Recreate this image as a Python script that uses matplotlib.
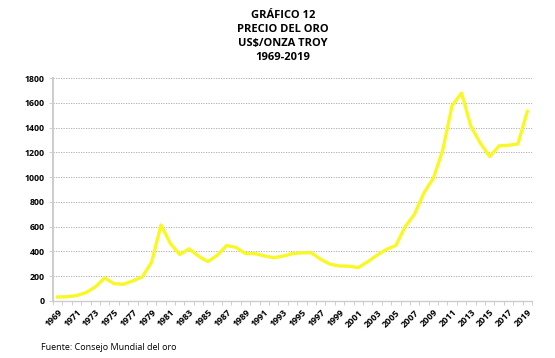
import numpy as np
import matplotlib
matplotlib.use("Agg")
import matplotlib.pyplot as plt

# datos (US$/onza troy)
years = list(range(1969, 2020))
prices = [32, 35, 43, 67, 113, 186, 140, 135, 162, 194,
          313, 613, 464, 375, 421, 362, 318, 370, 448, 432,
          383, 383, 364, 350, 362, 383, 389, 389, 337, 297,
          283, 281, 270, 316, 370, 416, 448, 599, 702, 874,
          990, 1220, 1579, 1678, 1409, 1274, 1166, 1252, 1257, 1268,
          1530]
title_lines = ["GRÁFICO 12", "PRECIO DEL ORO", "US$/ONZA TROY", "1969-2019"]
source = "Fuente: Consejo Mundial del oro"

plt.rcParams['font.family'] = ['Open Sans', 'DejaVu Sans']

W, H = 555, 358
fig = plt.figure(figsize=(W / 100, H / 100), dpi=100)
ax = fig.add_axes([53 / W, 1 - 301 / H, (532 - 53) / W, (301 - 78) / H])

x = np.arange(len(years))
ax.plot(x, prices, color="#F8F826", lw=2.4, solid_joinstyle="round")

ax.set_xlim(-0.5, len(years) - 0.5)
ax.set_ylim(0, 1800)
ax.set_yticks(np.arange(0, 1801, 200))
ax.yaxis.grid(True, color="#a6a6a6", ls=(0, (1.5, 1.5)), lw=0.6)
ax.set_axisbelow(True)

# etiquetas cada dos años, marcas entre categorias
ax.set_xticks(x[::2])
ax.set_xticklabels([str(y) for y in years[::2]], rotation=45, ha="right",
                   rotation_mode="anchor", fontsize=6.5, fontweight="bold")
ax.set_xticks(np.arange(-0.5, len(years)), minor=True)
ax.tick_params(axis="x", which="major", length=0, pad=5)
ax.tick_params(axis="x", which="minor", length=3, color="#c8c8c8", width=0.6)
ax.tick_params(axis="y", length=3, color="#c8c8c8", width=0.6, pad=3,
               labelsize=6.3)
for lab in ax.get_yticklabels():
    lab.set_fontweight("bold")

for s in ["top", "right"]:
    ax.spines[s].set_visible(False)
ax.spines["left"].set_color("#cccccc")
ax.spines["left"].set_linewidth(1.4)
ax.spines["bottom"].set_color("#cccccc")
ax.spines["bottom"].set_linewidth(1.0)

for i, t in enumerate(title_lines):
    fig.text(283 / W, 1 - (15 + 14.2 * i) / H, t, ha="center", va="center",
             fontsize=8, fontweight="bold")

fig.text(41 / W, 1 - 347 / H, source, ha="left", va="center", fontsize=6.5)

fig.savefig("out.png", dpi=100)
